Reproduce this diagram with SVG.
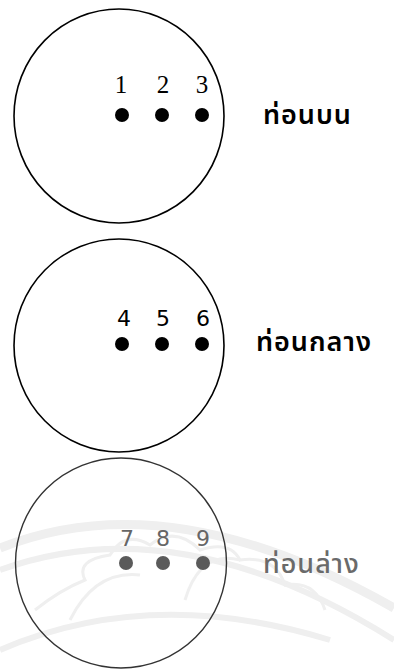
<svg xmlns="http://www.w3.org/2000/svg" width="394" height="670" viewBox="0 0 394 670">
<style>
.ring{fill:none;stroke:#000;stroke-width:1.6}
.ring3{fill:none;stroke:#333;stroke-width:1.4}
.dot{fill:#000}
.dot3{fill:#5a5a5a}
.num{font-family:"Liberation Serif",serif;font-size:25px;text-anchor:middle;fill:#000}
.numsans{font-family:"DejaVu Sans","Liberation Sans",sans-serif;font-size:22px;text-anchor:middle;fill:#000}
.num3{font-family:"DejaVu Sans","Liberation Sans",sans-serif;font-size:22px;text-anchor:middle;fill:#666}
.lbl{font-family:"Noto Sans Thai","Loma","Garuda","DejaVu Sans",sans-serif;font-size:27px;font-weight:600;letter-spacing:1px;fill:#000}
.lbl3{font-family:"Noto Sans Thai","Loma","Garuda","DejaVu Sans",sans-serif;font-size:27px;font-weight:500;letter-spacing:1px;fill:#6a6a6a}
.wm{fill:none;stroke:#efefef}
</style>
<g id="watermark">
<path class="wm" stroke-width="9" d="M0,548 Q170,480 394,608"/>
<path class="wm" stroke-width="6" d="M0,570 Q180,505 394,640"/>
<path class="wm" stroke-width="6" d="M0,650 Q150,585 330,640"/>
<path class="wm" stroke-width="3" d="M35,610 Q60,590 85,580 Q75,560 110,555 Q125,530 150,545 Q175,525 200,550 Q230,540 240,560 Q275,555 285,585 Q315,580 325,610"/>
<path class="wm" stroke-width="3" d="M70,620 Q95,570 140,575 M185,600 Q200,550 240,560"/>
</g>
<g id="top">
<ellipse class="ring" cx="119" cy="116" rx="105" ry="107"/>
<text class="num" x="121" y="93">1</text>
<text class="num" x="163" y="93">2</text>
<text class="num" x="202" y="93">3</text>
<circle class="dot" cx="122" cy="115" r="7"/>
<circle class="dot" cx="162" cy="115" r="7"/>
<circle class="dot" cx="202" cy="115" r="7"/>
<text class="lbl" x="263" y="124">ท่อนบน</text>
</g>
<g id="middle">
<ellipse class="ring" cx="119" cy="345.5" rx="105" ry="106.5"/>
<text class="numsans" x="124" y="326">4</text>
<text class="numsans" x="163" y="326">5</text>
<text class="numsans" x="203" y="326">6</text>
<circle class="dot" cx="122" cy="344" r="7"/>
<circle class="dot" cx="162" cy="344" r="7"/>
<circle class="dot" cx="202" cy="344" r="7"/>
<text class="lbl" x="256" y="351">ท่อนกลาง</text>
</g>
<g id="bottom">
<ellipse class="ring3" cx="121" cy="563" rx="105.5" ry="105"/>
<text class="num3" x="127" y="546">7</text>
<text class="num3" x="163" y="546">8</text>
<text class="num3" x="203" y="546">9</text>
<circle class="dot3" cx="126" cy="563" r="7"/>
<circle class="dot3" cx="163" cy="563" r="7"/>
<circle class="dot3" cx="203" cy="563" r="7"/>
<text class="lbl3" x="263" y="573">ท่อนล่าง</text>
</g>
</svg>
